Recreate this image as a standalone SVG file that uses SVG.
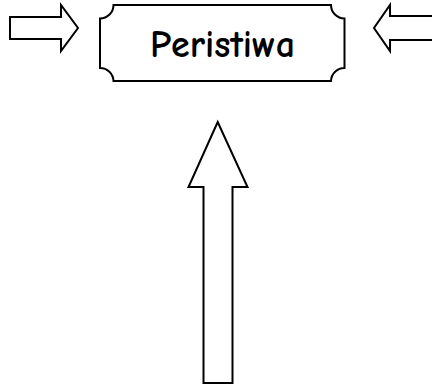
<svg xmlns="http://www.w3.org/2000/svg" width="433" height="385" viewBox="0 0 433 385">
<style>
.s{fill:#fff;stroke:#000;stroke-width:2;stroke-linejoin:miter}
.t{font-family:"Comic Sans MS","Comic Neue","DejaVu Sans",sans-serif;font-size:38px;font-weight:bold;fill:#000}
</style>
<rect width="433" height="385" fill="#fff"/>
<g id="connectors">
<path id="arrow-left" class="s" d="M10,17 H61 V5 L78,28 L61,51 V39 H10 Z"/>
<path id="arrow-right" class="s" d="M432,16 H390 V5 L374,28 L390,51 V40 H432"/>
<path id="arrow-up" class="s" d="M203.5,383 V187 H188.5 L217.7,122 L247.5,187 H232.5 V383 Z"/>
</g>
<g id="node-peristiwa">
<path class="s" d="M113.5,5 H331 A13.5,13.5 0 0 0 344.5,18.5 V68 A13.5,13.5 0 0 0 331,81 H113.5 A13.5,13.5 0 0 0 100,68 V18.5 A13.5,13.5 0 0 0 113.5,5 Z"/>
<text class="t" x="222.5" y="57" text-anchor="middle" textLength="145" lengthAdjust="spacingAndGlyphs">Peristiwa</text>
</g>
</svg>
